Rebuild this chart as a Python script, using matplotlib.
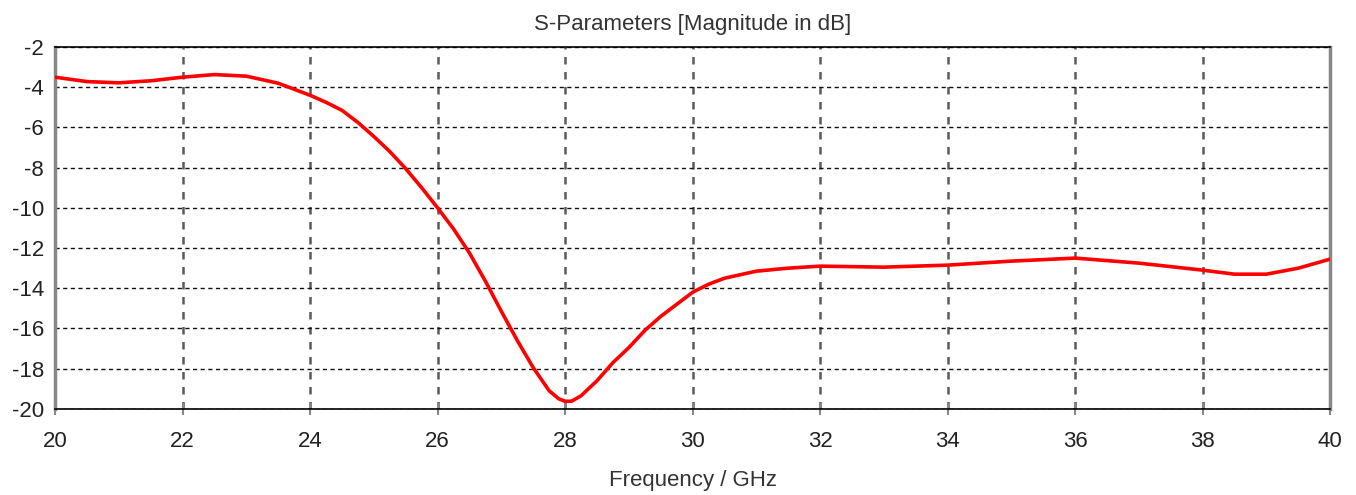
import numpy as np
import matplotlib
matplotlib.use('Agg')
import matplotlib.pyplot as plt

# S11 magnitude
freq_ghz = [20.0, 20.5, 21.0, 21.5, 22.0, 22.5, 23.0, 23.5, 24.0, 24.25,
            24.5, 24.75, 25.0, 25.25, 25.5, 25.75, 26.0, 26.25, 26.5, 26.75,
            27.0, 27.25, 27.5, 27.75, 27.9, 28.0, 28.1, 28.25, 28.5, 28.75,
            29.0, 29.25, 29.5, 29.75, 30.0, 30.25, 30.5, 31.0, 31.5, 32.0,
            33.0, 34.0, 35.0, 36.0, 37.0, 38.0, 38.5, 39.0, 39.5, 40.0]
s11_db = [-3.5, -3.72, -3.78, -3.68, -3.5, -3.37, -3.45, -3.8, -4.4, -4.75,
          -5.15, -5.75, -6.45, -7.2, -8.05, -9.0, -10.0, -11.05, -12.25, -13.65,
          -15.15, -16.6, -17.95, -19.1, -19.5, -19.62, -19.62, -19.35, -18.6, -17.7,
          -16.95, -16.1, -15.4, -14.8, -14.2, -13.8, -13.5, -13.15, -13.0, -12.9,
          -12.95, -12.85, -12.65, -12.5, -12.75, -13.1, -13.3, -13.3, -13.0, -12.55]

x_ticks = np.arange(20, 41, 2)
y_ticks = np.arange(-20, -1, 2)

plt.rcParams['font.family'] = ['Liberation Sans', 'DejaVu Sans']
plt.rcParams['axes.unicode_minus'] = False

fig = plt.figure(figsize=(13.56, 4.95), dpi=100)
ax = fig.add_axes([0.0406, 0.174, 0.9404, 0.731])

ax.plot(freq_ghz, s11_db, color='#ff0000', linewidth=2.6, zorder=3,
        solid_joinstyle='round')

ax.set_xlim(20, 40)
ax.set_ylim(-20, -2)
ax.set_xticks(x_ticks)
ax.set_yticks(y_ticks)

# grid: grey dashed verticals, black dashed horizontals
ax.xaxis.grid(True, color='#5a5a5a', linestyle=(0, (3, 3)), linewidth=1.8)
ax.yaxis.grid(True, color='#111111', linestyle=(0, (3, 2.5)), linewidth=1.0)

ax.spines['top'].set_color('black')
ax.spines['bottom'].set_color('black')
ax.spines['top'].set_linewidth(1.2)
ax.spines['bottom'].set_linewidth(1.2)
ax.spines['left'].set_color('#888888')
ax.spines['right'].set_color('#888888')
ax.spines['left'].set_linewidth(2.5)
ax.spines['right'].set_linewidth(2.5)

ax.tick_params(axis='x', direction='inout', length=8, color='#888888', width=1.5,
               labelsize=16, pad=12, labelcolor='#222222')
ax.tick_params(axis='y', direction='in', length=0, labelsize=16, pad=8,
               labelcolor='#222222')

ax.set_title('S-Parameters [Magnitude in dB]', fontsize=16, color='#333333', pad=12)
ax.set_xlabel('Frequency / GHz', fontsize=16, color='#333333', labelpad=13)

fig.savefig('out.png', dpi=100, facecolor='white')
